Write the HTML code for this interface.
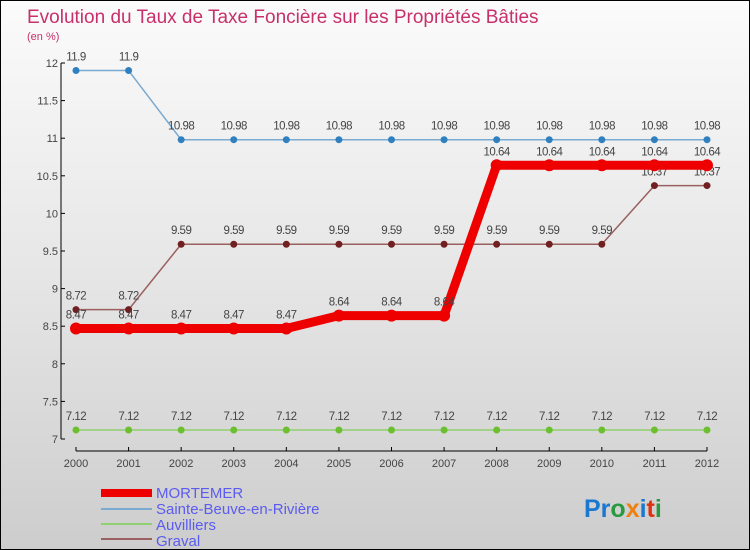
<!DOCTYPE html>
<html><head><meta charset="utf-8"><style>
body{margin:0}
#c{position:relative;width:748px;height:548px;border:1px solid #000;background:linear-gradient(#fbfbfb,#e6e6e6 50%,#cdcdcd);font-family:"Liberation Sans",sans-serif;overflow:hidden}
</style></head><body>
<div id="c">
<svg id="s" width="748" height="548" style="position:absolute;left:0;top:0">
<text x="26" y="22" font-size="19" fill="#c8306a">Evolution du Taux de Taxe Foncière sur les Propriétés Bâties</text>
<text x="26" y="39" font-size="11" fill="#c8306a">(en %)</text>
<g id="axes"></g><g id="series"></g>
<g>
<rect x="100" y="488" width="51" height="8" fill="#e00"/>
<text x="155" y="497" font-size="15" fill="#5b5bf0">MORTEMER</text>
<line x1="100" y1="508" x2="151" y2="508" stroke="#7aaad0" stroke-width="2"/>
<text x="155" y="513" font-size="15" fill="#5b5bf0">Sainte-Beuve-en-Rivière</text>
<line x1="100" y1="523" x2="151" y2="523" stroke="#8fd070" stroke-width="2"/>
<text x="155" y="529" font-size="15" fill="#5b5bf0">Auvilliers</text>
<line x1="100" y1="538" x2="151" y2="538" stroke="#9a6060" stroke-width="2"/>
<text x="155" y="545" font-size="15" fill="#5b5bf0">Graval</text>
</g>
<text x="583" y="516" font-size="25" font-weight="bold"><tspan fill="#1a78d0">Pr</tspan><tspan fill="#2a9a40">o</tspan><tspan fill="#f08010">x</tspan><tspan fill="#1a78d0">i</tspan><tspan fill="#e03010">t</tspan><tspan fill="#2a9a40">i</tspan></text>
</svg>
</div>
<script>
const years=[2000,2001,2002,2003,2004,2005,2006,2007,2008,2009,2010,2011,2012];
const yTicks=[7,7.5,8,8.5,9,9.5,10,10.5,11,11.5,12];
const mortemer=[8.47,8.47,8.47,8.47,8.47,8.64,8.64,8.64,10.64,10.64,10.64,10.64,10.64];
const sainteBeuve=[11.9,11.9,10.98,10.98,10.98,10.98,10.98,10.98,10.98,10.98,10.98,10.98,10.98];
const auvilliers=[7.12,7.12,7.12,7.12,7.12,7.12,7.12,7.12,7.12,7.12,7.12,7.12,7.12];
const graval=[8.72,8.72,9.59,9.59,9.59,9.59,9.59,9.59,9.59,9.59,9.59,10.37,10.37];
const NS='http://www.w3.org/2000/svg';
const X=i=>75+i*(706-75)/(years.length-1);
const Y=v=>438-(v-7)*75.2;
function mk(t,a,p){const e=document.createElementNS(NS,t);for(const k in a)e.setAttribute(k,a[k]);p.appendChild(e);return e;}
const ax=document.getElementById('axes');
let yl=mk('line',{x1:60,y1:Y(12),x2:60,y2:Y(7),stroke:'#000'},ax);


yTicks.forEach(v=>{
 mk('line',{x1:60,y1:Y(v),x2:64,y2:Y(v),stroke:'#000'},ax);
 const t=mk('text',{x:57,y:Y(v)+4,'font-size':11,fill:'#444','text-anchor':'end'},ax);
 t.textContent=String(v);
 
 
});
let xl=mk('line',{x1:X(0),y1:450,x2:X(12),y2:450,stroke:'#000'},ax);


years.forEach((y,i)=>{
 mk('line',{x1:X(i),y1:446,x2:X(i),y2:450,stroke:'#000'},ax);
 const t=mk('text',{x:X(i),y:466,'font-size':11,fill:'#444','text-anchor':'middle'},ax);
 t.textContent=y;
 
 
});
const sg=document.getElementById('series');
function draw(vals,name,col,dot,w,r){
 const g=mk('g',{},sg);
 
 
 mk('polyline',{points:vals.map((v,i)=>X(i)+','+Y(v)).join(' '),fill:'none',stroke:col,'stroke-width':w,'stroke-linejoin':'round'},g);
 vals.forEach((v,i)=>{
  const c=mk('circle',{cx:X(i),cy:Y(v),r:r,fill:dot},g);
  
  
  const t=mk('text',{x:X(i),y:Y(v)-10,'font-size':11.5,fill:'#444','text-anchor':'middle','letter-spacing':'-0.5'},g);
  t.textContent=String(v);
  
  
 });
}
draw(auvilliers,'auvilliers','#8fd070','#6cc030',1.5,3.5);
draw(graval,'graval','#9a6060','#702020',1.5,3.5);
draw(sainteBeuve,'sainte-beuve','#7aaad0','#3080c0',1.5,3.5);
draw(mortemer,'mortemer','#ee0000','#ee0000',9,6);
</script>
</body></html>
